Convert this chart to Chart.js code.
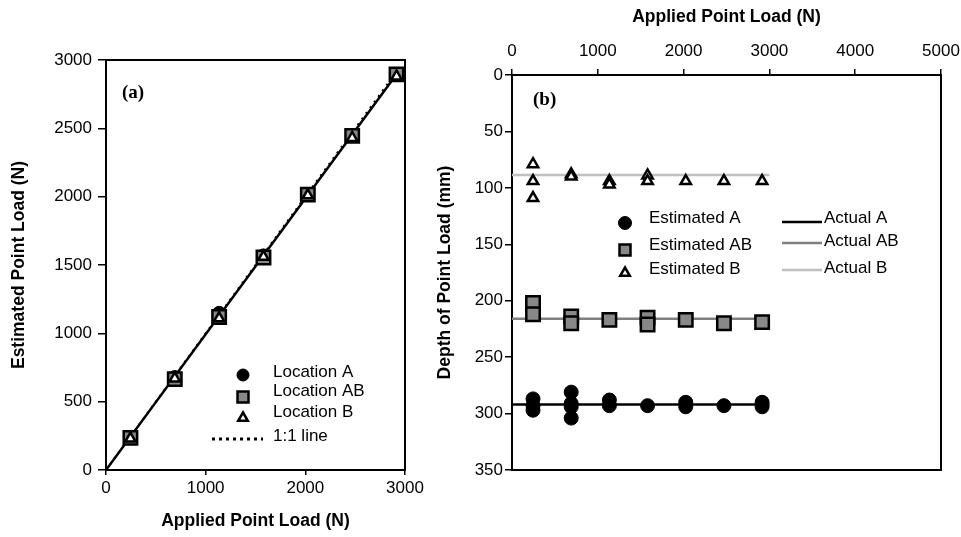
<!DOCTYPE html>
<html lang="en">
<head>
  <meta charset="UTF-8">
  <title>Point Load Estimation</title>
  <script src="https://cdn.jsdelivr.net/npm/chart.js"></script>
  <style>
    body { margin: 0; background: #fff; }
    #wrapA { position: absolute; left: 0; top: 0; width: 425px; height: 537px; }
    #wrapB { position: absolute; left: 425px; top: 0; width: 536px; height: 537px; }
  </style>
</head>
<body>
  <div id="wrapA"><canvas id="chartA" width="425" height="537"></canvas></div>
  <div id="wrapB"><canvas id="chartB" width="536" height="537"></canvas></div>

  <script>
    // ---- (a) estimated vs applied point load ----
    var appliedLoads = [245, 690, 1135, 1580, 2025, 2470, 2915];
    var estLoadA  = [240, 680, 1150, 1570, 2020, 2450, 2890];
    var estLoadAB = [235, 665, 1120, 1555, 2015, 2445, 2895];
    var estLoadB  = [230, 670, 1110, 1560, 2010, 2430, 2880];
    var fitLineX = [0, 2915];
    var fitLineY = [0, 2895];
    var oneToOneX = [0, 2915];

    // ---- (b) estimated depth vs applied point load ----
    var depthAx = [245, 245, 245, 690, 690, 690, 690, 1135, 1135, 1580, 2025, 2025, 2470, 2915, 2915];
    var depthAy = [287, 293, 297, 281, 291, 294, 304, 288, 293, 293, 290, 294, 293, 290, 294];
    var depthABx = [245, 245, 690, 690, 1135, 1580, 1580, 2025, 2470, 2915];
    var depthABy = [202, 212, 214, 220, 217, 215, 221, 217, 220, 219];
    var depthBx = [245, 245, 245, 690, 690, 1135, 1135, 1580, 1580, 2025, 2470, 2915];
    var depthBy = [79, 94, 109, 88, 90, 94, 97, 89, 94, 94, 94, 94];
    var actualX = [0, 3000];
    var actualDepthA = 292;
    var actualDepthAB = 216;
    var actualDepthB = 88.5;

    function pts(xs, ys) {
      return xs.map(function(x, i) { return { x: x, y: ys[i] }; });
    }
    function flat(xs, y) {
      return xs.map(function(x) { return { x: x, y: y }; });
    }

    Chart.defaults.font.family = "'Liberation Sans', Arial, sans-serif";
    Chart.defaults.font.size = 17;
    Chart.defaults.color = '#000';

    var titleFont = { family: "'Liberation Sans', Arial, sans-serif", size: 17.5, weight: 'bold' };
    var plain = function(v) { return String(v); };

    // frame round the plot area
    var boxPlugin = {
      id: 'box',
      beforeDatasetsDraw: function(chart) {
        var a = chart.chartArea, ctx = chart.ctx;
        ctx.save();
        ctx.strokeStyle = '#000';
        ctx.lineWidth = 2;
        ctx.strokeRect(a.left, a.top, a.right - a.left, a.bottom - a.top);
        ctx.restore();
      }
    };

    function drawMarker(ctx, it) {
      ctx.save();
      ctx.lineWidth = it.borderWidth;
      ctx.strokeStyle = '#000';
      ctx.fillStyle = it.fill;
      ctx.beginPath();
      if (it.shape === 'circle') {
        ctx.arc(it.x, it.y, it.r, 0, Math.PI * 2);
      } else if (it.shape === 'rect') {
        ctx.rect(it.x - it.r, it.y - it.r, it.r * 2, it.r * 2);
      } else if (it.shape === 'triangle') {
        ctx.moveTo(it.x, it.y - it.r);
        ctx.lineTo(it.x + it.r * 0.87, it.y + it.r * 0.5);
        ctx.lineTo(it.x - it.r * 0.87, it.y + it.r * 0.5);
        ctx.closePath();
      }
      ctx.fill();
      ctx.stroke();
      ctx.restore();
    }

    // legend and panel label drawn inside the plot area
    var innerLegend = {
      id: 'innerLegend',
      afterDraw: function(chart, args, opts) {
        var a = chart.chartArea, ctx = chart.ctx;
        ctx.save();
        (opts.items || []).forEach(function(it) {
          var x = a.left + it.x, y = a.top + it.y;
          if (it.kind === 'text') {
            ctx.font = it.font || "17px 'Liberation Sans', Arial, sans-serif";
            ctx.fillStyle = '#000';
            ctx.textAlign = 'left';
            ctx.textBaseline = 'middle';
            ctx.fillText(it.text, x, y);
          } else if (it.kind === 'line') {
            ctx.save();
            ctx.strokeStyle = it.color;
            ctx.lineWidth = it.width;
            ctx.setLineDash(it.dash || []);
            ctx.beginPath();
            ctx.moveTo(x, y);
            ctx.lineTo(a.left + it.x2, y);
            ctx.stroke();
            ctx.restore();
          } else {
            drawMarker(ctx, { shape: it.kind, x: x, y: y, r: it.r, fill: it.fill, borderWidth: it.bw });
          }
        });
        ctx.restore();
      }
    };

    var gridOpts = function(len) {
      return { drawOnChartArea: false, tickLength: len, color: '#000', lineWidth: 1.5 };
    };
    var borderOpts = { color: '#000', width: 2 };
    var panelFont = "bold 19px 'Liberation Serif', 'Times New Roman', serif";

    // ---------- chart (a) ----------
    new Chart(document.getElementById('chartA').getContext('2d'), {
      type: 'scatter',
      data: {
        datasets: [
          { label: 'Location B', data: pts(appliedLoads, estLoadB), pointStyle: 'triangle',
            pointRadius: 6, backgroundColor: '#fff', borderColor: '#000', borderWidth: 2.5 },
          { label: 'Location AB', data: pts(appliedLoads, estLoadAB), pointStyle: 'rect',
            pointRadius: 9.5, backgroundColor: '#888', borderColor: '#000', borderWidth: 2.5 },
          { label: 'Location A', data: pts(appliedLoads, estLoadA), pointStyle: 'circle',
            pointRadius: 6.5, backgroundColor: '#000', borderColor: '#000', borderWidth: 1 },
          { label: 'fit', data: pts(fitLineX, fitLineY), showLine: true, pointRadius: 0,
            borderColor: '#000', borderWidth: 2.5 },
          { label: '1:1 line', data: pts(oneToOneX, oneToOneX), showLine: true, pointRadius: 0,
            borderColor: '#000', borderWidth: 2, borderDash: [2, 5] }
        ]
      },
      options: {
        responsive: false,
        animation: false,
        layout: { padding: { top: 60, right: 20, bottom: 5, left: 0 } },
        scales: {
          x: {
            type: 'linear', min: 0, max: 3000,
            ticks: { stepSize: 1000, padding: 3, callback: plain },
            grid: gridOpts(5), border: borderOpts,
            title: { display: true, text: 'Applied Point Load (N)', font: titleFont, padding: 0 },
            afterFit: function(s) { s.height = 62; s.paddingRight = 0; }
          },
          y: {
            type: 'linear', min: 0, max: 3000,
            ticks: { stepSize: 500, padding: 6, callback: plain },
            grid: gridOpts(8), border: borderOpts,
            title: { display: true, text: 'Estimated Point Load (N)', font: titleFont, padding: { top: 8.5, bottom: 0 } },
            afterFit: function(s) { s.width = 106; }
          }
        },
        plugins: {
          legend: { display: false },
          tooltip: { enabled: false },
          innerLegend: {
            items: [
              { kind: 'text', text: '(a)', x: 16, y: 33, font: panelFont },
              { kind: 'circle', x: 137, y: 315, r: 6, fill: '#000', bw: 1 },
              { kind: 'text', text: 'Location A', x: 167, y: 312 },
              { kind: 'rect', x: 137, y: 337, r: 5.5, fill: '#888', bw: 2.5 },
              { kind: 'text', text: 'Location AB', x: 167, y: 331 },
              { kind: 'triangle', x: 137, y: 358, r: 5.5, fill: '#fff', bw: 2.5 },
              { kind: 'text', text: 'Location B', x: 167, y: 352 },
              { kind: 'line', x: 106, x2: 157, y: 379, color: '#000', width: 3, dash: [3, 4] },
              { kind: 'text', text: '1:1 line', x: 167, y: 376 }
            ]
          }
        }
      },
      plugins: [boxPlugin, innerLegend]
    });

    // ---------- chart (b) ----------
    new Chart(document.getElementById('chartB').getContext('2d'), {
      type: 'scatter',
      data: {
        datasets: [
          { label: 'Estimated B', data: pts(depthBx, depthBy), pointStyle: 'triangle',
            pointRadius: 6, backgroundColor: '#fff', borderColor: '#000', borderWidth: 2.5 },
          { label: 'Estimated AB', data: pts(depthABx, depthABy), pointStyle: 'rect',
            pointRadius: 9.5, backgroundColor: '#888', borderColor: '#000', borderWidth: 2.5 },
          { label: 'Estimated A', data: pts(depthAx, depthAy), pointStyle: 'circle',
            pointRadius: 7, backgroundColor: '#000', borderColor: '#000', borderWidth: 1 },
          { label: 'Actual A', data: flat(actualX, actualDepthA), showLine: true, pointRadius: 0,
            borderColor: '#000', borderWidth: 2.5 },
          { label: 'Actual AB', data: flat(actualX, actualDepthAB), showLine: true, pointRadius: 0,
            borderColor: '#808080', borderWidth: 2.5 },
          { label: 'Actual B', data: flat(actualX, actualDepthB), showLine: true, pointRadius: 0,
            borderColor: '#c0c0c0', borderWidth: 2.5 }
        ]
      },
      options: {
        responsive: false,
        animation: false,
        layout: { padding: { top: 0, right: 20, bottom: 67, left: 0 } },
        scales: {
          x: {
            type: 'linear', position: 'top', min: 0, max: 5000,
            ticks: { stepSize: 1000, padding: 7, callback: plain },
            grid: gridOpts(6), border: borderOpts,
            title: { display: true, text: 'Applied Point Load (N)', font: titleFont, padding: { top: 7, bottom: 0 } },
            afterFit: function(s) { s.height = 75; s.paddingRight = 0; }
          },
          y: {
            type: 'linear', reverse: true, min: 0, max: 350,
            ticks: { stepSize: 50, padding: 2, callback: plain },
            grid: gridOpts(7), border: borderOpts,
            title: { display: true, text: 'Depth of Point Load (mm)', font: titleFont, padding: { top: 9.5, bottom: 0 } },
            afterFit: function(s) { s.width = 87; }
          }
        },
        plugins: {
          legend: { display: false },
          tooltip: { enabled: false },
          innerLegend: {
            items: [
              { kind: 'text', text: '(b)', x: 21, y: 25, font: panelFont },
              { kind: 'circle', x: 113, y: 148, r: 6.5, fill: '#000', bw: 1 },
              { kind: 'text', text: 'Estimated A', x: 137, y: 143 },
              { kind: 'rect', x: 113, y: 175, r: 5.5, fill: '#888', bw: 2.5 },
              { kind: 'text', text: 'Estimated AB', x: 137, y: 170 },
              { kind: 'triangle', x: 113, y: 198, r: 5.5, fill: '#fff', bw: 2.5 },
              { kind: 'text', text: 'Estimated B', x: 137, y: 194 },
              { kind: 'line', x: 270, x2: 310, y: 147, color: '#000', width: 2.5 },
              { kind: 'text', text: 'Actual A', x: 312, y: 143 },
              { kind: 'line', x: 270, x2: 310, y: 168, color: '#808080', width: 2.5 },
              { kind: 'text', text: 'Actual AB', x: 312, y: 166 },
              { kind: 'line', x: 270, x2: 310, y: 195, color: '#c0c0c0', width: 2.5 },
              { kind: 'text', text: 'Actual B', x: 312, y: 193 }
            ]
          }
        }
      },
      plugins: [boxPlugin, innerLegend]
    });
  </script>
</body>
</html>
